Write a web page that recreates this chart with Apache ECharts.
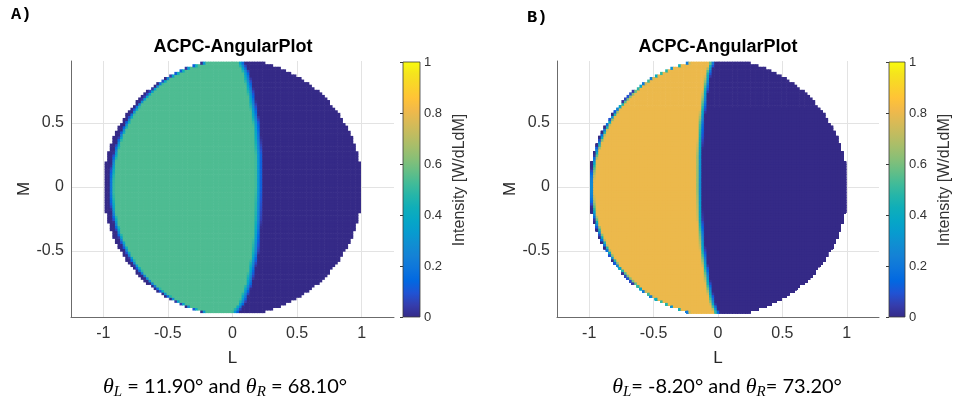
<!DOCTYPE html>
<html>
<head>
<meta charset="utf-8">
<title>ACPC-AngularPlot</title>
<script src="https://cdn.jsdelivr.net/npm/echarts@6/dist/echarts.min.js"></script>
<style>
  html, body { margin: 0; padding: 0; background: #fff; }
  #angular-chart { width: 953px; height: 402px; }
</style>
</head>
<body>
<div id="angular-chart"></div>
<script>
const rowM = [0.97, 0.9, 0.75, 0.5, 0.25, 0, -0.25, -0.5, -0.75, -0.9, -0.97];
// A) right edge of the bright band (L) and width of the dark rim on the left
const edgeA = [0.07, 0.105, 0.14, 0.185, 0.205, 0.205, 0.198, 0.178, 0.128, 0.075, 0.025];
const rimA = [0.02, 0.025, 0.035, 0.05, 0.06, 0.065, 0.06, 0.052, 0.042, 0.03, 0.02];
// B)
const edgeB = [-0.05, -0.075, -0.1, -0.132, -0.145, -0.147, -0.14, -0.118, -0.078, -0.045, -0.015];
const rimB = [0.01, 0.012, 0.015, 0.02, 0.022, 0.025, 0.022, 0.02, 0.015, 0.012, 0.01];
// intensity inside the bright band
const levelA = 0.54;
const levelB = 0.8;
// soft edge widths (right boundary / left rim), cell size of the L/M grid
const rampA = [0.055, 0.035];
const rampB = [0.045, 0.03];
const cellStep = 0.02;
const rowLimit = 0.97;

const xTicks = [-1, -0.5, 0, 0.5, 1];
const yTicks = [-0.5, 0, 0.5];
const barTicks = [0, 0.2, 0.4, 0.6, 0.8, 1];

const parula = ["#352a87", "#353dad", "#2053d4", "#0268e1", "#0d75dc", "#1481d6",
  "#108ed2", "#079ccf", "#06a7c6", "#0faeb9", "#25b5a9", "#42bb98", "#65be86",
  "#87bf77", "#a5be6b", "#c0bc60", "#d9ba56", "#f1b94a", "#ffc337", "#fad32a",
  "#f5e41d", "#f9fb0e"];

const sans = "Liberation Sans";

function clamp01(v) {
  return Math.max(0, Math.min(1, v));
}

// value of a reading at row m (between two read rows the readings are blended)
function readRow(list, m) {
  for (let k = 0; k < rowM.length - 1; k++) {
    let a = rowM[k], b = rowM[k + 1];
    if (m <= a && m >= b) {
      let t = (a - m) / (a - b);
      return list[k] * (1 - t) + list[k + 1] * t;
    }
  }
  return m > rowM[0] ? list[0] : list[list.length - 1];
}

function buildCells(edge, rim, level, ramp) {
  let cells = [];
  let rows = Math.round((2 * rowLimit) / cellStep);
  let cols = Math.round(2 / cellStep);
  for (let j = 0; j <= rows; j++) {
    let m = +(-rowLimit + j * cellStep).toFixed(3);
    let half = Math.sqrt(1 - m * m);
    let right = readRow(edge, m);
    let left = -half + readRow(rim, m);
    for (let i = 0; i <= cols; i++) {
      let l = +(-1 + i * cellStep).toFixed(3);
      if (l * l + m * m > 0.999) continue;
      let up = clamp01((l - left) / ramp[1] + 0.5);
      let down = clamp01((right - l) / ramp[0] + 0.5);
      cells.push([l, m, +(level * Math.min(up, down)).toFixed(3)]);
    }
  }
  return cells;
}

const cellsA = buildCells(edgeA, rimA, levelA, rampA);
const cellsB = buildCells(edgeB, rimB, levelB, rampB);

function renderCell(params, api) {
  let p = api.coord([api.value(0), api.value(1)]);
  let s = api.size([cellStep, cellStep]);
  return {
    type: "rect",
    shape: { x: p[0] - s[0] / 2, y: p[1] - s[1] / 2, width: s[0] + 0.6, height: s[1] + 0.6 },
    style: { fill: api.visual("color") }
  };
}

function renderBar(params, api) {
  let p0 = api.coord([0, 0]);
  let p1 = api.coord([1, 1]);
  let stops = parula.map((c, i) => ({ offset: i / (parula.length - 1), color: c }));
  return {
    type: "rect",
    shape: { x: p0[0], y: p1[1], width: p1[0] - p0[0], height: p0[1] - p1[1] },
    style: {
      fill: new echarts.graphic.LinearGradient(0, 1, 0, 0, stops),
      stroke: "#3a3a3a",
      lineWidth: 0.8
    }
  };
}

function mapX(gridIndex) {
  return {
    gridIndex: gridIndex,
    type: "value",
    min: -1.25,
    max: 1.25,
    name: "L",
    nameLocation: "middle",
    nameGap: 33,
    nameTextStyle: { fontFamily: sans, fontSize: 17, color: "#262626" },
    axisLine: { show: true, onZero: false, lineStyle: { color: "#6b6b6b", width: 1 } },
    axisTick: { show: false, customValues: xTicks },
    axisLabel: { customValues: xTicks, fontFamily: sans, fontSize: 16, color: "#333333", margin: 9 },
    splitLine: { show: true, lineStyle: { color: "#e3e3e3", width: 1 } }
  };
}

function mapY(gridIndex) {
  return {
    gridIndex: gridIndex,
    type: "value",
    min: -1.015,
    max: 0.985,
    name: "M",
    nameLocation: "middle",
    nameGap: 34,
    nameTextStyle: { fontFamily: sans, fontSize: 17, color: "#262626" },
    axisLine: { show: true, onZero: false, lineStyle: { color: "#6b6b6b", width: 1 } },
    axisTick: { show: false, customValues: yTicks },
    axisLabel: { customValues: yTicks, fontFamily: sans, fontSize: 16, color: "#333333", margin: 7 },
    splitLine: { show: true, lineStyle: { color: "#e3e3e3", width: 1 } }
  };
}

function barX(gridIndex) {
  return { gridIndex: gridIndex, type: "value", min: 0, max: 1, show: false };
}

function barY(gridIndex) {
  return {
    gridIndex: gridIndex,
    type: "value",
    position: "right",
    min: 0,
    max: 1,
    interval: 0.2,
    axisLine: { show: false },
    axisTick: { show: true, inside: true, length: 3, lineStyle: { color: "#3a3a3a" } },
    axisLabel: {
      fontFamily: sans,
      fontSize: 13,
      color: "#333333",
      margin: 4,
      formatter: function(v) {
        return barTicks.indexOf(+v.toFixed(1)) >= 0 ? String(+v.toFixed(1)) : "";
      }
    },
    splitLine: { show: false }
  };
}

function plainText(x, y, text, family, size, align) {
  return {
    type: "text",
    x: x,
    y: y,
    silent: true,
    style: {
      text: text,
      fontFamily: family,
      fontSize: size,
      fontWeight: "bold",
      align: align,
      verticalAlign: "middle",
      fill: "#000"
    }
  };
}

// colorbar label, written bottom to top
function barLabel(x, y) {
  return {
    type: "text",
    x: x,
    y: y,
    rotation: Math.PI / 2,
    silent: true,
    style: {
      text: "Intensity [W/dLdM]",
      fontFamily: sans,
      fontSize: 16,
      align: "center",
      verticalAlign: "middle",
      fill: "#333333"
    }
  };
}

function caption(x, text) {
  return {
    type: "text",
    x: x,
    y: 387,
    silent: true,
    style: {
      text: text,
      align: "center",
      verticalAlign: "middle",
      fill: "#000",
      rich: {
        t: { fontFamily: "Liberation Serif", fontStyle: "italic", fontSize: 22, lineHeight: 26, verticalAlign: "middle", fill: "#000" },
        s: { fontFamily: "Liberation Serif", fontStyle: "italic", fontSize: 15, lineHeight: 26, verticalAlign: "bottom", fill: "#000" },
        n: { fontFamily: "Lato", fontSize: 20, lineHeight: 26, verticalAlign: "middle", fill: "#000" }
      }
    }
  };
}

let myChart = echarts.init(document.getElementById("angular-chart"));
let option = {
  animation: false,
  backgroundColor: "#ffffff",
  textStyle: { fontFamily: sans },
  grid: [
    { left: 71, top: 61, width: 323, height: 256, outerBoundsMode: "none" },
    { left: 403, top: 62, width: 17, height: 255, outerBoundsMode: "none" },
    { left: 557, top: 61, width: 322, height: 256, outerBoundsMode: "none" },
    { left: 889, top: 62, width: 16, height: 255, outerBoundsMode: "none" }
  ],
  xAxis: [mapX(0), barX(1), mapX(2), barX(3)],
  yAxis: [mapY(0), barY(1), mapY(2), barY(3)],
  visualMap: {
    type: "continuous",
    show: false,
    min: 0,
    max: 1,
    dimension: 2,
    seriesIndex: [0, 1],
    inRange: { color: parula }
  },
  series: [
    { type: "custom", xAxisIndex: 0, yAxisIndex: 0, data: cellsA, encode: { x: 0, y: 1 }, renderItem: renderCell, clip: true, silent: true },
    { type: "custom", xAxisIndex: 2, yAxisIndex: 2, data: cellsB, encode: { x: 0, y: 1 }, renderItem: renderCell, clip: true, silent: true },
    { type: "custom", xAxisIndex: 1, yAxisIndex: 1, data: [[0, 0]], renderItem: renderBar, silent: true },
    { type: "custom", xAxisIndex: 3, yAxisIndex: 3, data: [[0, 0]], renderItem: renderBar, silent: true }
  ],
  graphic: [
    plainText(11, 15, "A)", "Liberation Mono", 17, "left"),
    plainText(527, 18, "B)", "Liberation Mono", 17, "left"),
    plainText(233, 47, "ACPC-AngularPlot", sans, 18, "center"),
    plainText(718, 47, "ACPC-AngularPlot", sans, 18, "center"),
    barLabel(460, 180),
    barLabel(945, 180),
    caption(225, "{t|θ}{s|L}{n| = 11.90° and }{t|θ}{s|R}{n| = 68.10°}"),
    caption(727, "{t|θ}{s|L}{n|= -8.20° and }{t|θ}{s|R}{n|= 73.20°}")
  ]
};
myChart.setOption(option);
</script>
</body>
</html>
